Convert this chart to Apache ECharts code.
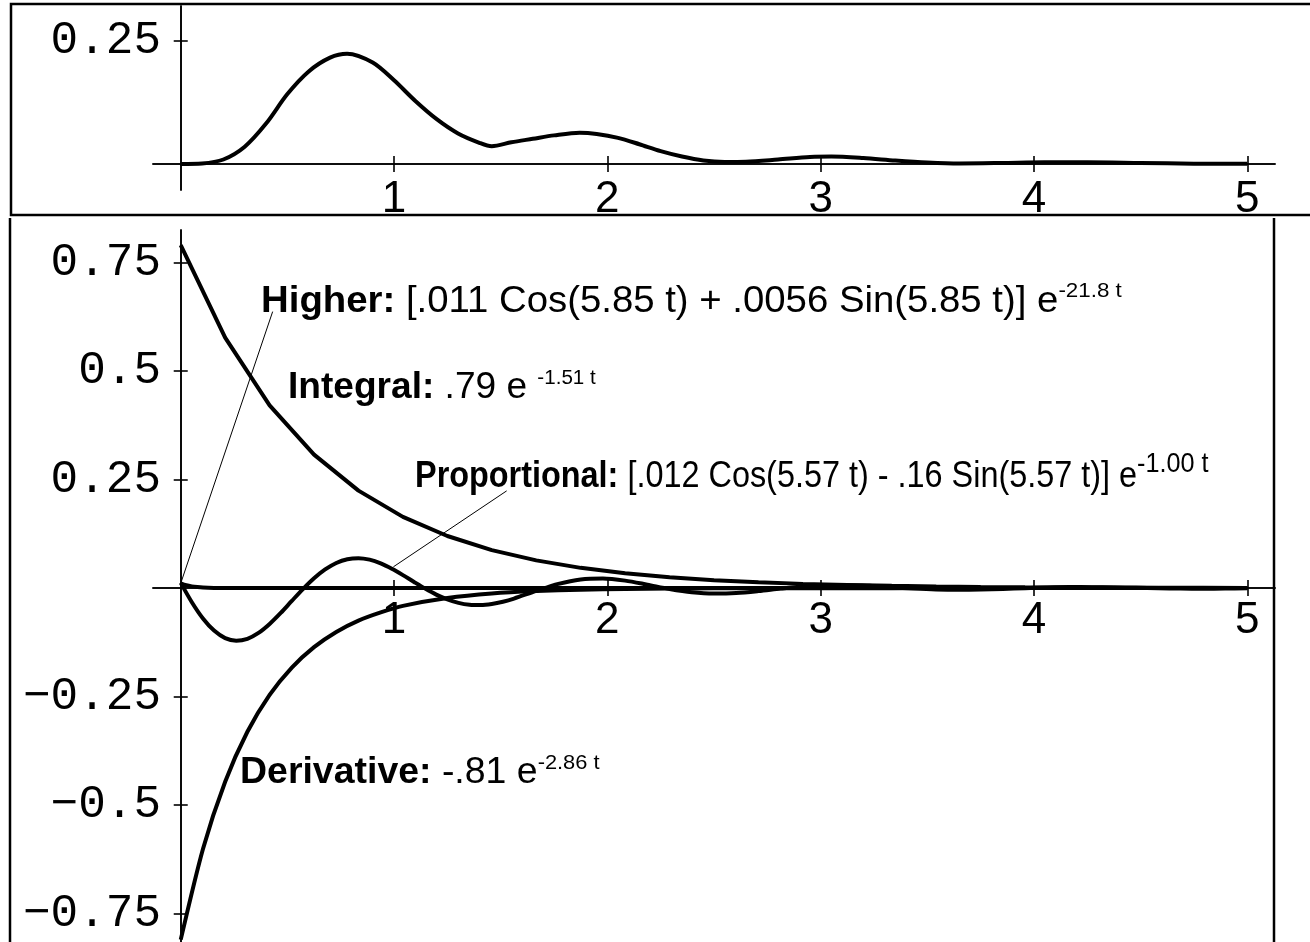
<!DOCTYPE html>
<html><head><meta charset="utf-8">
<script src="https://cdn.jsdelivr.net/npm/echarts@6/dist/echarts.min.js"></script>
<style>html,body{margin:0;padding:0;background:#fff}#c{width:1310px;height:942px}</style>
</head><body><div id="c"></div>
<script>
// ---- data ----
const errT = [0,0.1,0.2,0.3,0.4,0.5,0.6,0.7,0.78,0.9,1.0,1.1,1.2,1.3,1.4,1.458,1.55,1.65,1.75,1.87,1.95,2.05,2.15,2.25,2.35,2.45,2.55,2.65,2.8,2.95,3.05,3.2,3.35,3.5,3.65,3.85,4.05,4.25,4.5,4.75,5.0];
const errV = [0,0.001,0.009,0.035,0.082,0.142,0.188,0.216,0.224,0.206,0.17,0.128,0.091,0.062,0.043,0.036,0.044,0.051,0.058,0.0635,0.061,0.053,0.04,0.026,0.015,0.007,0.004,0.0045,0.009,0.014,0.015,0.012,0.007,0.003,0.001,0.002,0.0035,0.0035,0.002,0.0005,0.0003];

const integralT = [0,0.2083,0.4167,0.625,0.8333,1.0417,1.25,1.4583,1.6667,1.875,2.0833,2.2917,2.5,2.7083,2.9167,3.125,3.3333,3.5417,3.75,3.9583,4.1667,4.375,4.5833,4.7917,5];
const integralV = [0.79,0.577,0.421,0.3075,0.2245,0.164,0.12,0.0874,0.0638,0.0466,0.034,0.0248,0.0181,0.0132,0.0097,0.0071,0.0052,0.0038,0.0027,0.002,0.0015,0.0011,0.0008,0.0006,0.0004];

const derivT = [0,0.1042,0.2083,0.3125,0.4167,0.5208,0.625,0.7292,0.8333,0.9375,1.0417,1.25,1.4583,1.6667,1.875,2.0833,2.2917,2.5,2.9167,3.3333,3.75,4.1667,4.5833,5];
const derivV = [-0.81,-0.601,-0.446,-0.331,-0.246,-0.183,-0.136,-0.101,-0.075,-0.056,-0.041,-0.023,-0.0125,-0.0069,-0.0038,-0.0021,-0.0011,-0.0006,-0.0002,-0.0001,0,0,0,0];

const propT = [0,0.0521,0.1042,0.1563,0.2083,0.2604,0.3125,0.3646,0.4167,0.4688,0.5208,0.5729,0.625,0.6771,0.7292,0.7813,0.8333,0.8854,0.9375,0.9896,1.0417,1.0938,1.1458,1.1979,1.25,1.3021,1.3542,1.4063,1.4583,1.5104,1.5625,1.6667,1.7708,1.875,1.9792,2.0833,2.1875,2.2917,2.3958,2.5,2.6042,2.7083,2.8125,2.9167,3.0208,3.125,3.2292,3.3333,3.4375,3.5417,3.6458,3.75,3.8542,3.9583,4.0625,4.1667,4.2708,4.375,4.4792,4.5833,4.6875,4.7917,4.8958,5];
const propV = [0.012,-0.0325,-0.070,-0.098,-0.1152,-0.1213,-0.1169,-0.1033,-0.0826,-0.0572,-0.0295,-0.0023,0.0225,0.0429,0.0579,0.0666,0.069,0.0655,0.057,0.0446,0.0299,0.0141,-0.0012,-0.015,-0.0261,-0.0341,-0.0384,-0.0391,-0.0366,-0.0314,-0.0241,-0.0065,0.0097,0.0199,0.0221,0.0172,0.0079,-0.002,-0.0095,-0.0126,-0.0114,-0.0069,-0.0011,0.0039,0.0068,0.007,0.0051,0.002,-0.0011,-0.0033,-0.0041,-0.0035,-0.0019,-0.0001,0.0015,0.0023,0.0022,0.0015,0.0005,-0.0005,-0.0012,-0.0013,-0.0011,-0.0005];

const higherT = [0,0.026,0.0521,0.0781,0.1042,0.1563,0.2083,0.4167,1,2,3,4,5];
const higherV = [0.011,0.0066,0.0039,0.0023,0.0013,0.0004,0.0001,0,0,0,0,0,0];

const xTicks = [1,2,3,4,5];
const topYTicks = [0.25];
const botYTicks = [-0.75,-0.5,-0.25,0.25,0.5,0.75];

// leader lines (data space of lower panel)
const higherLeader = [[0,0.011],[0.431,0.637]];
const propLeader = [[0.997,0.049],[1.528,0.224]];

// annotation anchors (left / vertical middle, data space of lower panel)
const annotations = [
  {t:0.3765, y:0.660, sx:1.065, sup:21, text:'{b|Higher:}{r| [.011 Cos(5.85 t) + .0056 Sin(5.85 t)] e}{s|-21.8 t}'},
  {t:0.503,  y:0.460, sx:1.03, sup:20, text:'{b|Integral:}{r| .79 e }{s|-1.51 t}'},
  {t:1.0984, y:0.255, sx:0.9,  sup:28, text:'{b|Proportional:}{r| [.012 Cos(5.57 t) - .16 Sin(5.57 t)] e}{s|-1.00 t}'},
  {t:0.278,  y:-0.427, sx:1.04, sup:21, text:'{b|Derivative:}{r| -.81 e}{s|-2.86 t}'}
];

// ---- chart ----
const zip = (a,b) => a.map((v,i)=>[v,b[i]]);
const BLACK = '#000';
const MONO = "'Liberation Mono', 'DejaVu Sans Mono', monospace";
const SANS = "'Liberation Sans', Arial, sans-serif";

function xAxisPair(grid, labelMargin){
  const base = {
    type:'value', gridIndex:grid, min:-0.13, max:5.13,
    splitLine:{show:false},
    axisLine:{show:true, onZero:true, lineStyle:{color:BLACK, width:1.6}},
  };
  return [
    Object.assign({}, base, {position:'bottom',
      axisTick:{show:true, customValues:xTicks, length:8, lineStyle:{color:BLACK, width:1.6}},
      axisLabel:{show:true, customValues:xTicks, margin:labelMargin, color:BLACK, fontFamily:SANS, fontSize:44}}),
    Object.assign({}, base, {position:'top',
      axisTick:{show:true, customValues:xTicks, length:8, lineStyle:{color:BLACK, width:1.6}},
      axisLabel:{show:false}})
  ];
}
function yAxisPair(grid, min, max, ticks){
  const base = {
    type:'value', gridIndex:grid, min:min, max:max,
    splitLine:{show:false},
    axisLine:{show:true, onZero:true, lineStyle:{color:BLACK, width:1.6}},
  };
  return [
    Object.assign({}, base, {position:'left',
      axisTick:{show:true, customValues:ticks, length:7, lineStyle:{color:BLACK, width:1.6}},
      axisLabel:{show:true, customValues:ticks, margin:-8, color:BLACK, fontFamily:MONO, fontSize:46,
        formatter: v => String(v).replace('-', '\u2212')}}),
    Object.assign({}, base, {position:'right',
      axisTick:{show:true, customValues:ticks, length:7, lineStyle:{color:BLACK, width:1.6}},
      axisLabel:{show:false}})
  ];
}

const curve = (name, xi, yi, data, smooth) => ({
  name, type:'line', xAxisIndex:xi, yAxisIndex:yi, data, smooth:smooth,
  symbol:'none', clip:false, silent:true,
  lineStyle:{color:BLACK, width:4}, z:3
});

const option = {
  animation:false,
  backgroundColor:'#fff',
  grid:[
    {left:153, top:6, width:1122, height:184, containLabel:false, outerBoundsMode:'none'},
    {left:153, top:230, width:1122, height:714, containLabel:false, outerBoundsMode:'none'}
  ],
  xAxis:[...xAxisPair(0, -12), ...xAxisPair(1, -345)],
  yAxis:[...yAxisPair(0, -0.053, 0.321, topYTicks), ...yAxisPair(1, -0.82, 0.825, botYTicks)],
  series:[
    curve('Error', 0, 0, zip(errT, errV), 0.3),
    curve('Integral', 2, 2, zip(integralT, integralV), false),
    curve('Derivative', 2, 2, zip(derivT, derivV), 0.25),
    curve('Proportional', 2, 2, zip(propT, propV), 0.3),
    Object.assign(curve('Higher', 2, 2, zip(higherT, higherV), 0.3), {
      markLine:{
        silent:true, symbol:['none','none'], label:{show:false},
        lineStyle:{color:BLACK, width:1, type:'solid'},
        data:[
          [{coord:higherLeader[0]},{coord:higherLeader[1]}],
          [{coord:propLeader[0]},{coord:propLeader[1]}]
        ]
      }
    })
  ]
};

const chart = echarts.init(document.getElementById('c'), null, {renderer:'canvas'});
chart.setOption(option);

function richFor(sup){
  return {
    b:{fontFamily:SANS, fontWeight:'bold', fontSize:36, lineHeight:36, verticalAlign:'bottom', color:BLACK},
    r:{fontFamily:SANS, fontSize:36, lineHeight:36, verticalAlign:'bottom', color:BLACK},
    s:{fontFamily:SANS, fontSize:sup, lineHeight:sup, verticalAlign:'bottom', padding:[0,0,Math.round(21 - 0.16*sup),0], color:BLACK}
  };
}
const texts = annotations.map(a => {
  const p = chart.convertToPixel({xAxisIndex:2, yAxisIndex:2}, [a.t, a.y]);
  return {type:'text', x:p[0], y:p[1], scaleX:a.sx, z:10, silent:true,
    style:{text:a.text, rich:richFor(a.sup), align:'left', verticalAlign:'middle', fill:BLACK}};
});
const frame = [
  {type:'rect', z:0, silent:true, shape:{x:11, y:4, width:1330, height:211}, style:{fill:'none', stroke:BLACK, lineWidth:2.5}},
  {type:'line', z:0, silent:true, shape:{x1:10, y1:218, x2:10, y2:960}, style:{stroke:BLACK, lineWidth:2.5}},
  {type:'line', z:0, silent:true, shape:{x1:1274, y1:218, x2:1274, y2:960}, style:{stroke:BLACK, lineWidth:2.5}}
];
chart.setOption({graphic: frame.concat(texts)});
</script></body></html>
